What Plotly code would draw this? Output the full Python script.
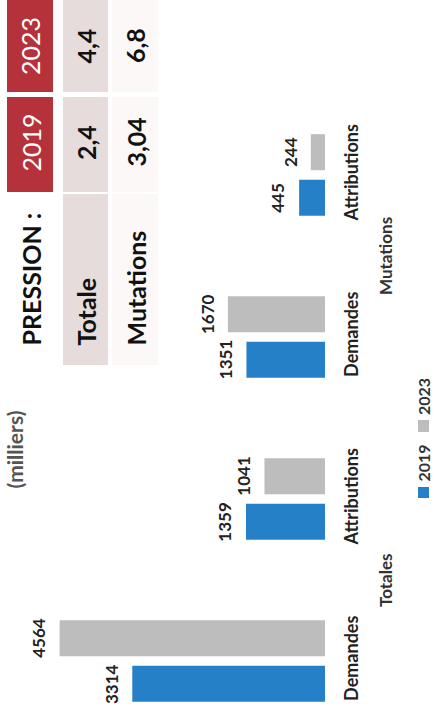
import plotly.graph_objects as go

# ---------------- data ----------------
categories = ["Demandes", "Attributions", "Demandes", "Attributions"]
groups = ["Totales", "Mutations"]
series_names = ["2019", "2023"]
values_2019 = [3314, 1359, 1351, 445]
values_2023 = [4564, 1041, 1670, 244]

table_header = ["PRESSION :", "2019", "2023"]
table_rows = ["Totale", "Mutations"]
pression_2019 = ["2,4", "3,04"]
pression_2023 = ["4,4", "6,8"]
title_text = "(milliers)"

# ---------------- style ----------------
W, H = 433, 711
L, R, T, B = 0, 108, 0, 0
PW = W - L - R
FONT = "Lato"
BLUE = "#2580c8"
GREY = "#bdbdbd"
RED = "#b5323b"
ROW1 = "#e6dcdb"
ROW2 = "#fbf8f7"
colors = [BLUE, GREY]
BARGAP = 0.438
BARGROUPGAP = 0.209


def px(x):
    return (x - L) / PW


def py(y):
    return 1 - y / H


idx = list(range(len(categories)))
all_series = [values_2019, values_2023]

fig = go.Figure()
for name, vals, col in zip(series_names, all_series, colors):
    fig.add_trace(go.Bar(x=vals, y=idx, orientation="h", name=name,
                         marker=dict(color=col, line=dict(width=0)),
                         showlegend=False, hoverinfo="skip"))

annotations = []
shapes = []
slot = (1 - BARGAP) / len(all_series)
for si, vals in enumerate(all_series):
    off = (si - (len(all_series) - 1) / 2) * slot
    for ci, v in enumerate(vals):
        annotations.append(dict(x=v, y=ci + off, xref="x", yref="y",
                                text=str(v), showarrow=False, textangle=-90,
                                xanchor="center", yanchor="middle", xshift=-21,
                                font=dict(family=FONT, size=17, color="#222222", weight=700)))

# group labels
for gi, g in enumerate(groups):
    annotations.append(dict(x=px(386), y=2 * gi + 0.5, xref="paper", yref="y",
                            text=g, showarrow=False, textangle=-90,
                            xanchor="center", yanchor="middle",
                            font=dict(family=FONT, size=17, color="#333333", weight=700)))

# legend (rotated)
leg_sq = [(487, 498), (420, 432)]
leg_txt = [463.5, 397]
for si, name in enumerate(series_names):
    y0, y1 = leg_sq[si]
    shapes.append(dict(type="rect", xref="paper", yref="paper",
                       x0=px(418), x1=px(429), y0=py(y1), y1=py(y0),
                       fillcolor=colors[si], line=dict(width=0)))
    annotations.append(dict(x=px(423), y=py(leg_txt[si]), xref="paper", yref="paper",
                            text=name, showarrow=False, textangle=-90,
                            xanchor="center", yanchor="middle", borderpad=0,
                            font=dict(family=FONT, size=16, color="#333333", weight=700)))

# title (at the left edge)
annotations.append(dict(x=px(0), y=py(450), xref="paper", yref="paper",
                        text=title_text, showarrow=False, textangle=-90,
                        xanchor="left", yanchor="middle", borderpad=0,
                        font=dict(family=FONT, size=21, color="#555555", weight=700)))

# table
row_x = [(7, 53), (63, 108), (112, 158)]
col_y = [(194, 365), (97, 192), (-5, 92)]
fills = [[None, RED, RED], [ROW1, ROW1, ROW1], [ROW2, ROW2, ROW2]]
for ri, (x0, x1) in enumerate(row_x):
    for cj, (y0, y1) in enumerate(col_y):
        f = fills[ri][cj]
        if f:
            shapes.append(dict(type="rect", xref="paper", yref="paper",
                               x0=px(x0), x1=px(x1), y0=py(y1), y1=py(y0),
                               fillcolor=f, line=dict(width=0), layer="below"))

table_cells = [table_header,
               [table_rows[0], pression_2019[0], pression_2023[0]],
               [table_rows[1], pression_2019[1], pression_2023[1]]]
for ri, row in enumerate(table_cells):
    xc = (row_x[ri][0] + row_x[ri][1]) / 2
    for cj, txt in enumerate(row):
        y0, y1 = col_y[cj]
        if cj == 0:
            yy, ya = 348, "bottom"
        else:
            yy, ya = (max(y0, 0) + y1) / 2 + (0 if cj == 2 else -2), "middle"
        header_num = (ri == 0 and cj > 0)
        annotations.append(dict(x=px(xc), y=py(yy), xref="paper", yref="paper",
                                text=txt, showarrow=False, textangle=-90,
                                xanchor="center", yanchor=ya,
                                font=dict(family=FONT, size=25,
                                          color="white" if header_num else "#111111",
                                          weight=400 if header_num else 700)))

fig.update_layout(
    width=W, height=H,
    margin=dict(l=L, r=R, t=T, b=B, pad=0, autoexpand=False),
    paper_bgcolor="white", plot_bgcolor="white",
    barmode="group", bargap=BARGAP, bargroupgap=BARGROUPGAP,
    showlegend=False,
    xaxis=dict(range=[PW / 0.05815, 0], showgrid=False, zeroline=False,
               showticklabels=False, showline=False, ticks="", automargin=False),
    yaxis=dict(range=[-0.309, 4.08], tickmode="array", tickvals=idx,
               ticktext=categories, side="right", tickangle=-90,
               showgrid=False, zeroline=False, showline=False, ticks="",
               ticklabelstandoff=14, automargin=False,
               tickfont=dict(family=FONT, size=18, color="#222222", weight=700)),
    annotations=annotations, shapes=shapes,
)

fig.write_html("out.html", config={"displayModeBar": False},
               post_script="document.body.style.margin='0';")
